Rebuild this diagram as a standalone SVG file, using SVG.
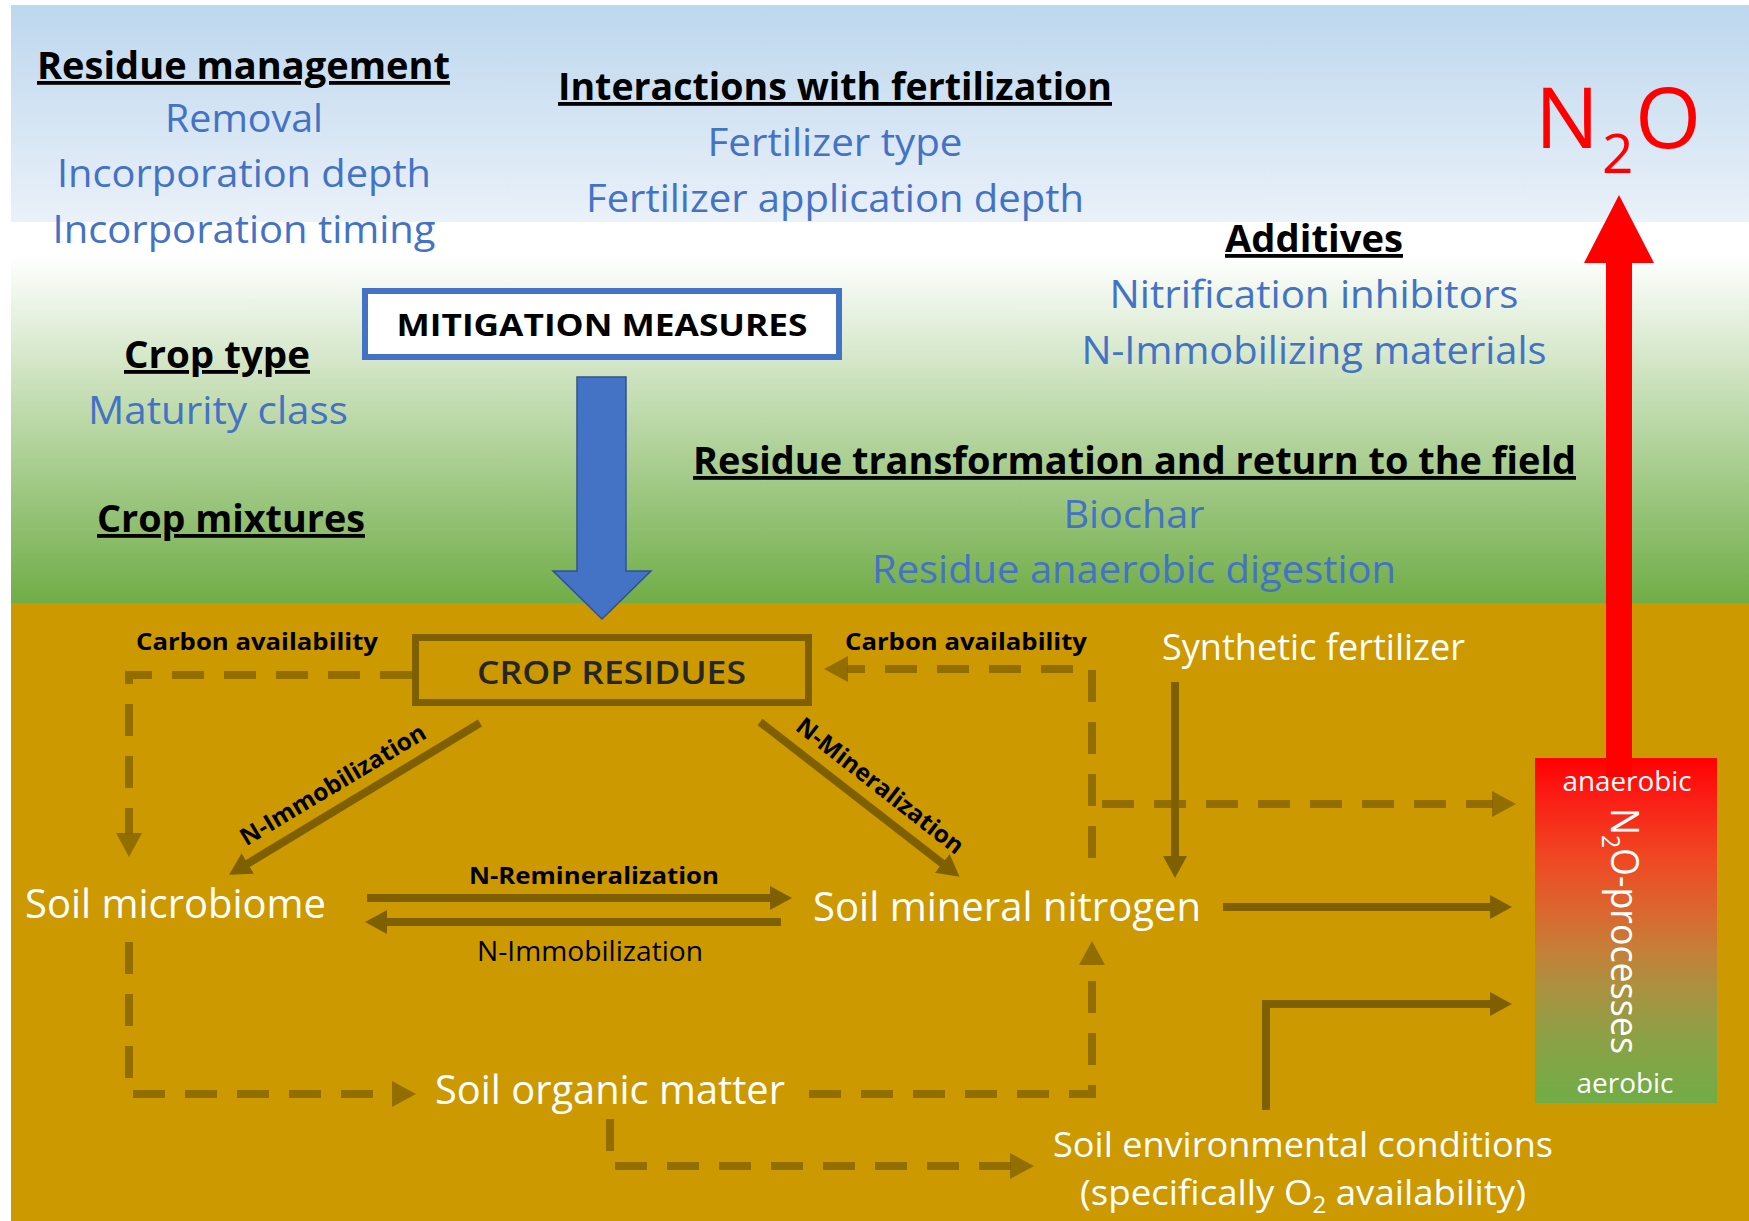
<svg xmlns="http://www.w3.org/2000/svg" width="1749" height="1221" viewBox="0 0 1749 1221">
<style>
text{font-family:"Open Sans","Noto Sans","Liberation Sans",sans-serif;}
.h{font-weight:700;font-size:38px;fill:#000;text-anchor:middle;text-decoration:underline;}
.b{font-size:38px;fill:#4472C4;text-anchor:middle;}
.w{fill:#FFFFFF;text-anchor:middle;}
.lbl{font-weight:700;font-size:24px;fill:#000;text-anchor:middle;}
.dash{fill:none;stroke:#7F6000;stroke-opacity:0.75;stroke-width:8;stroke-dasharray:32 20;}
.solid{fill:none;stroke:#7F6000;stroke-width:8;}
</style>
<defs>
<linearGradient id="sky" gradientUnits="userSpaceOnUse" x1="0" y1="5" x2="0" y2="603">
<stop offset="0" stop-color="#BDD7EE"/>
<stop offset="0.363" stop-color="#EAF1F9"/>
<stop offset="0.363" stop-color="#FFFFFF"/>
<stop offset="0.42" stop-color="#FFFFFF"/>
<stop offset="1" stop-color="#70AD47"/>
</linearGradient>
<linearGradient id="proc" x1="0" y1="0" x2="0" y2="1">
<stop offset="0" stop-color="#FF0000"/>
<stop offset="0.1" stop-color="#FC1A14"/>
<stop offset="0.3" stop-color="#EE4A24"/>
<stop offset="0.46" stop-color="#D86A30"/>
<stop offset="0.56" stop-color="#C48038"/>
<stop offset="0.66" stop-color="#AC9040"/>
<stop offset="0.8" stop-color="#8EA045"/>
<stop offset="1" stop-color="#70AD47"/>
</linearGradient>
<marker id="ah" markerUnits="userSpaceOnUse" markerWidth="26" markerHeight="26" refX="1" refY="12" orient="auto">
<path d="M0,0 L22,12 L0,24 Z" fill="#7F6000"/>
</marker>
<marker id="ahd" markerUnits="userSpaceOnUse" markerWidth="28" markerHeight="28" refX="1" refY="13" orient="auto">
<path d="M0,0 L24,13 L0,26 Z" fill="#7F6000" fill-opacity="0.75"/>
</marker>
</defs>

<rect x="0" y="0" width="1749" height="1221" fill="#FFFFFF"/>
<rect x="11" y="5" width="1738" height="598" fill="url(#sky)"/>
<rect x="11" y="603" width="1738" height="618" fill="#CC9900"/>

<g id="residue-management">
<text class="h" x="243.5" y="79" textLength="413" lengthAdjust="spacingAndGlyphs">Residue management</text>
<text class="b" x="244" y="132" textLength="158" lengthAdjust="spacingAndGlyphs">Removal</text>
<text class="b" x="244" y="187" textLength="374" lengthAdjust="spacingAndGlyphs">Incorporation depth</text>
<text class="b" x="244" y="243" textLength="383" lengthAdjust="spacingAndGlyphs">Incorporation timing</text>
</g>
<g id="interactions-fertilization">
<text class="h" x="835" y="100" textLength="554" lengthAdjust="spacingAndGlyphs">Interactions with fertilization</text>
<text class="b" x="835" y="156" textLength="255" lengthAdjust="spacingAndGlyphs">Fertilizer type</text>
<text class="b" x="835" y="212" textLength="498" lengthAdjust="spacingAndGlyphs">Fertilizer application depth</text>
</g>
<g id="additives">
<text class="h" x="1314" y="252" textLength="178" lengthAdjust="spacingAndGlyphs">Additives</text>
<text class="b" x="1314" y="308" textLength="409" lengthAdjust="spacingAndGlyphs">Nitrification inhibitors</text>
<text class="b" x="1314" y="364" textLength="465" lengthAdjust="spacingAndGlyphs">N-Immobilizing materials</text>
</g>
<g id="crop-type">
<text class="h" x="217" y="368" textLength="186" lengthAdjust="spacingAndGlyphs">Crop type</text>
<text class="b" x="218" y="424" textLength="260" lengthAdjust="spacingAndGlyphs">Maturity class</text>
</g>
<g id="crop-mixtures">
<text class="h" x="231" y="532" textLength="268" lengthAdjust="spacingAndGlyphs">Crop mixtures</text>
</g>
<g id="residue-transformation">
<text class="h" x="1134.5" y="474" textLength="883" lengthAdjust="spacingAndGlyphs">Residue transformation and return to the field</text>
<text class="b" x="1134" y="528" textLength="141" lengthAdjust="spacingAndGlyphs">Biochar</text>
<text class="b" x="1134" y="583" textLength="524" lengthAdjust="spacingAndGlyphs">Residue anaerobic digestion</text>
</g>

<g id="mitigation-measures">
<rect x="365" y="291" width="474" height="66" fill="#FFFFFF" stroke="#4472C4" stroke-width="6"/>
<text x="602" y="336" font-size="31" font-weight="700" fill="#000" text-anchor="middle" textLength="411" lengthAdjust="spacingAndGlyphs">MITIGATION MEASURES</text>
</g>

<g id="n2o">
<text y="148" font-size="85" fill="#FF0000"><tspan x="1535">N</tspan><tspan x="1602" y="173" font-size="55">2</tspan><tspan x="1635" y="148">O</tspan></text>
</g>

<g id="n2o-processes">
<rect x="1535" y="758" width="182" height="345" fill="url(#proc)"/>
<text class="w" x="1627" y="791" font-size="27" textLength="129" lengthAdjust="spacingAndGlyphs">anaerobic</text>
<text class="w" x="1625" y="1093" font-size="27" textLength="97" lengthAdjust="spacingAndGlyphs">aerobic</text>
<text transform="translate(1611,808) rotate(90)" font-size="39" fill="#FFFFFF" textLength="246" lengthAdjust="spacingAndGlyphs">N<tspan font-size="25" dy="9">2</tspan><tspan dy="-9">O-processes</tspan></text>
</g>

<g id="crop-residues">
<rect x="415.5" y="637.5" width="393" height="65" fill="none" stroke="#7F6000" stroke-width="7"/>
<text x="611.5" y="684" font-size="33" font-weight="600" fill="#262626" text-anchor="middle" textLength="269" lengthAdjust="spacingAndGlyphs">CROP RESIDUES</text>
</g>

<g id="soil-microbiome">
<text class="w" x="175.5" y="918" font-size="41" textLength="301" lengthAdjust="spacingAndGlyphs">Soil microbiome</text>
</g>
<g id="soil-mineral-nitrogen">
<text class="w" x="1007" y="921" font-size="41" textLength="388" lengthAdjust="spacingAndGlyphs">Soil mineral nitrogen</text>
</g>
<g id="soil-organic-matter">
<text class="w" x="610" y="1104" font-size="41" textLength="350" lengthAdjust="spacingAndGlyphs">Soil organic matter</text>
</g>
<g id="synthetic-fertilizer">
<text class="w" x="1313.5" y="660" font-size="37" textLength="303" lengthAdjust="spacingAndGlyphs">Synthetic fertilizer</text>
</g>
<g id="soil-environmental-conditions">
<text class="w" x="1303" y="1157" font-size="35" textLength="500" lengthAdjust="spacingAndGlyphs">Soil environmental conditions</text>
<text class="w" x="1303" y="1205" font-size="35" textLength="446" lengthAdjust="spacingAndGlyphs">(specifically O<tspan font-size="23" dy="8">2</tspan><tspan dy="-8"> availability)</tspan></text>
</g>

<g id="connectors">
<polygon points="577,377 626,377 626,571 651,571 602,619 553,571 577,571" fill="#4472C4" stroke="#2F528F" stroke-width="1.5"/>
<polygon points="1606,777 1606,263 1584,263 1619,195 1654,263 1632,263 1632,777" fill="#FF0000"/>

<path class="dash" d="M412,675 H129 V834" marker-end="url(#ahd)"/>
<path class="dash" d="M1092,858 V669 H847" marker-end="url(#ahd)"/>
<path class="dash" d="M1102,804 H1493" marker-end="url(#ahd)"/>
<path class="dash" d="M129,942 V1094 H393" marker-end="url(#ahd)"/>
<path class="dash" d="M809,1094 H1092 V964" marker-end="url(#ahd)"/>
<path class="dash" d="M610,1119 V1166 H1011" marker-end="url(#ahd)"/>

<path class="solid" d="M480,723 L247,864" marker-end="url(#ah)"/>
<path class="solid" d="M760,722 L943,864" marker-end="url(#ah)"/>
<path class="solid" d="M367,898 H771" marker-end="url(#ah)"/>
<path class="solid" d="M781,922 H386" marker-end="url(#ah)"/>
<path class="solid" d="M1175,682 V857" marker-end="url(#ah)"/>
<path class="solid" d="M1223,907 H1491" marker-end="url(#ah)"/>
<path class="solid" d="M1266,1110 V1004 H1491" marker-end="url(#ah)"/>

<text class="lbl" x="257" y="650" textLength="242" lengthAdjust="spacingAndGlyphs">Carbon availability</text>
<text class="lbl" x="966" y="650" textLength="242" lengthAdjust="spacingAndGlyphs">Carbon availability</text>
<text class="lbl" transform="translate(333,785) rotate(-31)" x="0" y="8" textLength="212" lengthAdjust="spacingAndGlyphs">N-Immobilization</text>
<text class="lbl" transform="translate(880,786) rotate(38)" x="0" y="8" textLength="205" lengthAdjust="spacingAndGlyphs">N-Mineralization</text>
<text class="lbl" x="594" y="884" textLength="250" lengthAdjust="spacingAndGlyphs">N-Remineralization</text>
<text x="590" y="961" font-size="27" fill="#000" text-anchor="middle" textLength="226" lengthAdjust="spacingAndGlyphs">N-Immobilization</text>
</g>
</svg>
